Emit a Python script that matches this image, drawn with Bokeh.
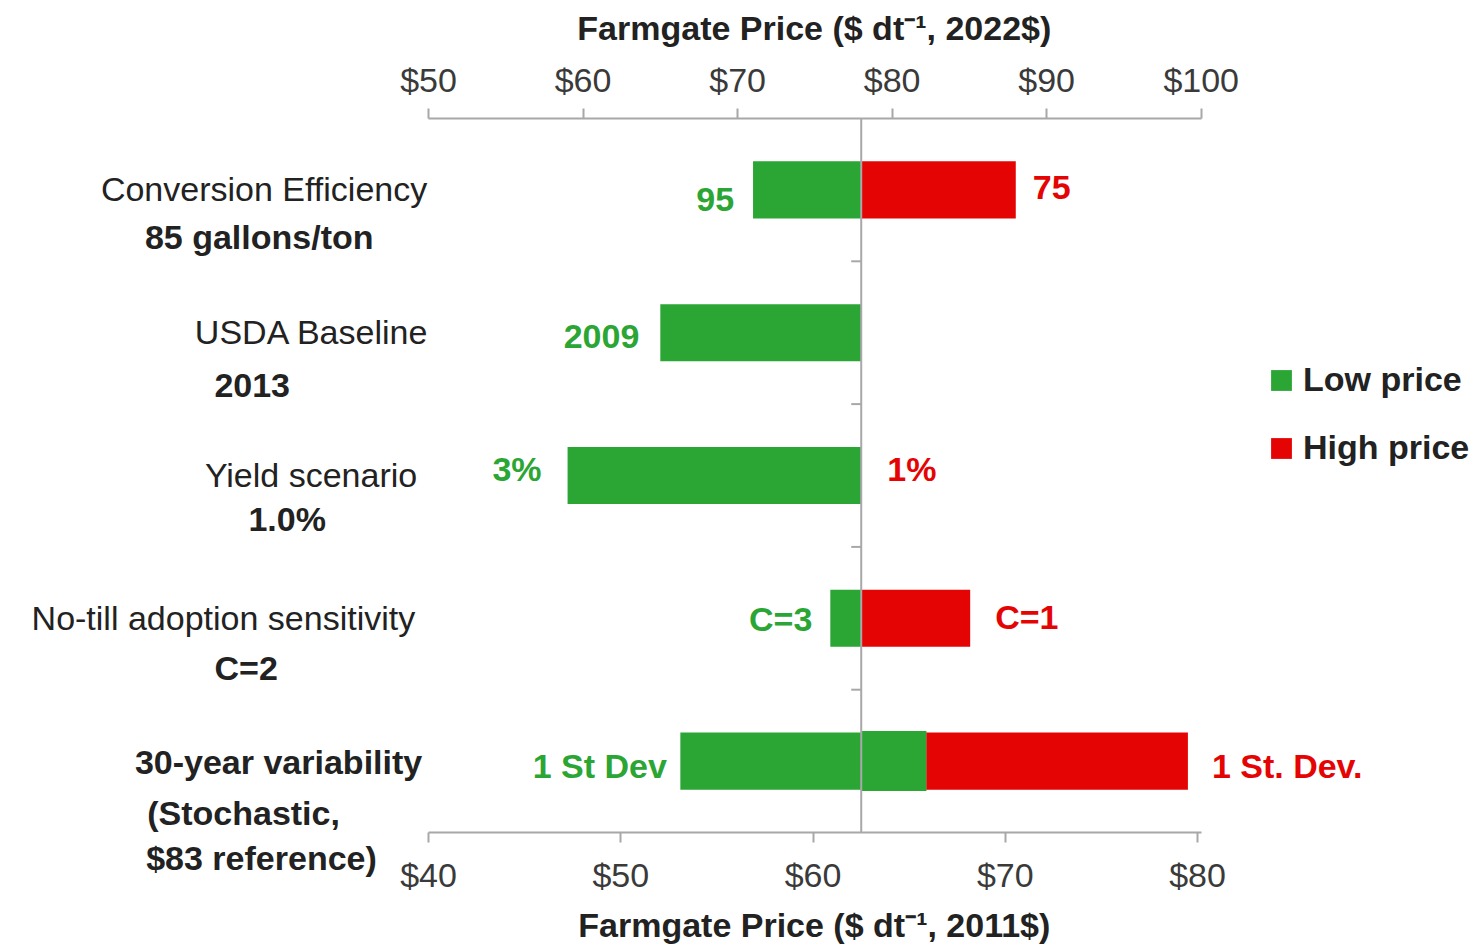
import numpy as np
from bokeh.plotting import figure
from bokeh.models import (Range1d, LinearAxis, FixedTicker, NumeralTickFormatter,
                          Span, Legend, LegendItem, ColumnDataSource)
from bokeh.embed import file_html
from bokeh.resources import INLINE
from bokeh.core.properties import value

# ---------------- data ----------------
categories = ["Conversion Efficiency", "USDA Baseline", "Yield scenario",
              "No-till adoption sensitivity", "30-year variability"]
subtitles = ["85 gallons/ton", "2013", "1.0%", "C=2", "(Stochastic,", "$83 reference)"]
subtitle_row = [0, 1, 2, 3, 4, 4]

baseline_2022 = 78.0     # top axis ($ dt-1, 2022$)
baseline_2011 = 62.5     # bottom axis ($ dt-1, 2011$)

low_2022 = [71.0, 65.0, 59.0, 76.0]
high_2022 = [88.0, 78.0, 78.0, 85.05]
low_labels = ["95", "2009", "3%", "C=3"]
high_labels = ["75", "", "1%", "C=1"]

var_low_2011 = 53.1
var_split_2011 = 65.9
var_high_2011 = 79.5
var_low_label = "1 St Dev"
var_high_label = "1 St. Dev."

top_ticks = [50, 60, 70, 80, 90, 100]
bottom_ticks = [40, 50, 60, 70, 80]
top_bounds = (50, 100)
bottom_bounds = (40, 80.2)
top_title = "Farmgate Price ($ dt\u207b\u00b9, 2022$)"
bottom_title = "Farmgate Price ($ dt\u207b\u00b9, 2011$)"
legend_labels = ["Low price", "High price"]

# ---------------- style ----------------
GREEN = "#2ba534"
RED = "#e50404"
GRAY = "#a8a8aa"
TXT = "#222222"
TICKTXT = "#3a3a3a"
FONT = "Liberation Sans"
FS = "34px"
TITLE_PAD = "\u00a0" * 30   # shifts the (frame-centred) axis titles over the axis span

W, H = 1483, 946
n = len(categories)
row_y = [n - 0.5 - i for i in range(n)]
BAR_H = 0.4

# screen-pixel placements (reference picture coordinates)
FRAME_LEFT_PX = 428.3
PX_PER_2022 = 15.45
PX_PER_2011 = 19.22
ROW_PX = [189.5, 332.5, 475.5, 618.5, 761.5]
cat_x_px = [427, 429, 417, 415, 422]
cat_y_px = [189, 332, 475, 618, 762]
cat_style = ["normal", "normal", "normal", "normal", "bold"]
sub_x_px = [259, 252, 287, 246, 147, 146]
sub_y_px = [237, 385, 519, 668, 813, 858]
sub_align = ["center", "center", "center", "center", "left", "left"]

low_dx = [-19, -21, -26, -18]
low_dy = [9.5, 4, -6.5, 0.5]
high_dx = [17, 0, 26, 25]
high_dy = [-2.5, 0, -6.5, -1]
var_low_dx, var_high_dx, var_dy = -13.5, 24, 4.5

frame_w = W - FRAME_LEFT_PX
x_end_2022 = top_bounds[0] + frame_w / PX_PER_2022
x_end_2011 = bottom_bounds[0] + frame_w / PX_PER_2011

p = figure(width=W, height=H, x_range=Range1d(top_bounds[0], x_end_2022), y_range=Range1d(0, n),
           x_axis_location="above", y_axis_location=None,
           output_backend="svg", toolbar_location=None,
           min_border_left=428, min_border_right=0, min_border_top=118, min_border_bottom=113)
p.extra_x_ranges = {"x2011": Range1d(bottom_bounds[0], x_end_2011)}
p.outline_line_color = None
p.grid.visible = False
p.background_fill_color = "white"
p.border_fill_color = "white"


def style_axis(ax, ticks, bounds, label, label_standoff, title_standoff):
    ax.ticker = FixedTicker(ticks=ticks)
    ax.bounds = bounds
    ax.formatter = NumeralTickFormatter(format="$0")
    ax.axis_label = label + TITLE_PAD
    ax.axis_line_color = GRAY
    ax.axis_line_width = 2
    ax.major_tick_line_color = GRAY
    ax.major_tick_line_width = 2
    ax.major_tick_out = 10
    ax.major_tick_in = 0
    ax.minor_tick_out = 0
    ax.minor_tick_in = 0
    ax.major_label_text_font = FONT
    ax.major_label_text_font_size = FS
    ax.major_label_text_color = TICKTXT
    ax.major_label_standoff = label_standoff
    ax.axis_label_text_font = FONT
    ax.axis_label_text_font_size = FS
    ax.axis_label_text_font_style = "bold"
    ax.axis_label_text_color = TXT
    ax.axis_label_standoff = title_standoff


top_axis = p.xaxis[0]
style_axis(top_axis, top_ticks, top_bounds, top_title, 10, 11)

bottom_axis = LinearAxis(x_range_name="x2011")
style_axis(bottom_axis, bottom_ticks, bottom_bounds, bottom_title, 13, 9)
p.add_layout(bottom_axis, "below")

# ---------------- bars ----------------
src_low = ColumnDataSource(dict(y=row_y[:4], left=low_2022, right=[baseline_2022] * 4))
src_high = ColumnDataSource(dict(y=row_y[:4], left=[baseline_2022] * 4, right=high_2022))
g_r = p.hbar(y="y", left="left", right="right", height=BAR_H, source=src_low,
             fill_color=GREEN, line_color=None)
r_r = p.hbar(y="y", left="left", right="right", height=BAR_H, source=src_high,
             fill_color=RED, line_color=None)

p.hbar(y=[row_y[4]], left=[var_low_2011], right=[var_split_2011], height=BAR_H,
       fill_color=GREEN, line_color=None, x_range_name="x2011")
p.hbar(y=[row_y[4]], left=[baseline_2011], right=[var_split_2011], height=BAR_H + 0.02,
       fill_color=GREEN, line_color=None, x_range_name="x2011")
p.hbar(y=[row_y[4]], left=[var_split_2011], right=[var_high_2011], height=BAR_H,
       fill_color=RED, line_color=None, x_range_name="x2011")

# centre line and category ticks
p.add_layout(Span(location=baseline_2022, dimension="height", line_color=GRAY, line_width=2))
p.ray(x=[baseline_2022] * (n - 1), y=list(range(1, n)), length=10, length_units="screen",
      angle=np.pi, line_color=GRAY, line_width=2)

# ---------------- value labels ----------------
common = dict(text_baseline="middle", text_font=value(FONT), text_font_size=FS,
              text_font_style="bold", level="overlay")
p.text(x=low_2022, y=row_y[:4], text=low_labels, x_offset=low_dx, y_offset=low_dy,
       text_align="right", text_color=GREEN, **common)
p.text(x=high_2022, y=row_y[:4], text=high_labels, x_offset=high_dx, y_offset=high_dy,
       text_align="left", text_color=RED, **common)
p.text(x=[var_low_2011], y=[row_y[4]], text=[var_low_label], x_offset=var_low_dx, y_offset=var_dy,
       text_align="right", text_color=GREEN, x_range_name="x2011", **common)
p.text(x=[var_high_2011], y=[row_y[4]], text=[var_high_label], x_offset=var_high_dx, y_offset=var_dy,
       text_align="left", text_color=RED, x_range_name="x2011", **common)

# ---------------- category labels ----------------
p.text(x=[top_bounds[0]] * n, y=row_y, text=categories,
       x_offset=[cx - FRAME_LEFT_PX for cx in cat_x_px],
       y_offset=[cy - ry for cy, ry in zip(cat_y_px, ROW_PX)],
       text_align="right", text_baseline="middle", text_color=TXT,
       text_font=value(FONT), text_font_size=FS, text_font_style=cat_style, level="overlay")
p.text(x=[top_bounds[0]] * len(subtitles), y=[row_y[r] for r in subtitle_row], text=subtitles,
       x_offset=[sx - FRAME_LEFT_PX for sx in sub_x_px],
       y_offset=[sy - ROW_PX[r] for sy, r in zip(sub_y_px, subtitle_row)],
       text_align=sub_align, text_baseline="middle", text_color=TXT,
       text_font=value(FONT), text_font_size=FS, text_font_style="bold", level="overlay")

# ---------------- legend ----------------
legend = Legend(items=[LegendItem(label=legend_labels[0], renderers=[g_r]),
                       LegendItem(label=legend_labels[1], renderers=[r_r])],
                location=(840, 365), orientation="vertical",
                glyph_width=26, glyph_height=26, label_standoff=9, spacing=29,
                padding=0, margin=0, border_line_color=None, background_fill_alpha=0,
                label_text_font=FONT, label_text_font_size=FS, label_text_font_style="bold",
                label_text_color=TXT)
p.add_layout(legend)

open("out.html", "w").write(file_html(p, INLINE))
